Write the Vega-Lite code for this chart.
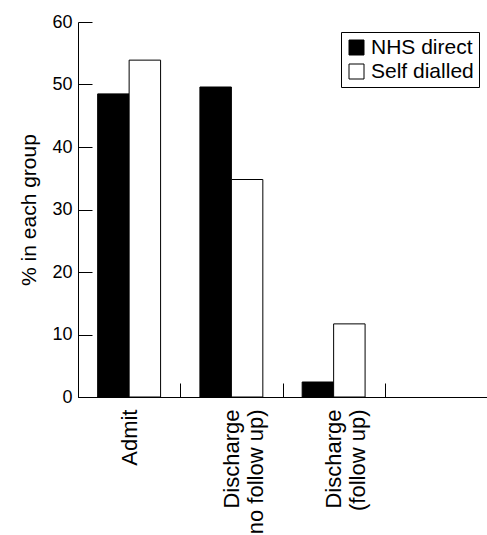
{
  "$schema": "https://vega.github.io/schema/vega-lite/v6.json",
  "autosize": "none",
  "width": 409,
  "height": 375,
  "padding": {"left": 78, "top": 22, "right": 0, "bottom": 138},
  "background": "white",
  "config": {
    "view": {"stroke": null},
    "font": "Liberation Sans",
    "axis": {"grid": false, "domainColor": "black", "tickColor": "black", "labelColor": "black", "titleColor": "black", "domainWidth": 1, "tickWidth": 1}
  },
  "data": {
    "values": [
      {"outcome": "Admit", "group": "NHS direct", "pct": 48.5},
      {"outcome": "Admit", "group": "Self dialled", "pct": 53.9},
      {"outcome": "Discharge|no follow up)", "group": "NHS direct", "pct": 49.6},
      {"outcome": "Discharge|no follow up)", "group": "Self dialled", "pct": 34.8},
      {"outcome": "Discharge|(follow up)", "group": "NHS direct", "pct": 2.4},
      {"outcome": "Discharge|(follow up)", "group": "Self dialled", "pct": 11.7}
    ]
  },
  "mark": {"type": "bar", "stroke": "black", "strokeWidth": 1},
  "encoding": {
    "x": {
      "field": "outcome",
      "type": "nominal",
      "sort": null,
      "scale": {"domain": ["Admit", "Discharge|no follow up)", "Discharge|(follow up)", " "], "paddingInner": 0, "paddingOuter": 0},
      "axis": {
        "title": null,
        "values": ["Admit", "Discharge|no follow up)", "Discharge|(follow up)"],
        "tickBand": "extent",
        "tickSize": -14,
        "labelAngle": -90,
        "labelAlign": "right",
        "labelBaseline": "middle",
        "labelPadding": 26,
        "labelFontSize": 22,
        "labelLineHeight": 24,
        "labelExpr": "split(datum.label, '|')"
      }
    },
    "xOffset": {
      "field": "group",
      "type": "nominal",
      "scale": {"domain": ["NHS direct", "Self dialled"], "paddingInner": 0, "paddingOuter": 0.625}
    },
    "y": {
      "field": "pct",
      "type": "quantitative",
      "scale": {"domain": [0, 60], "nice": false},
      "axis": {
        "title": "% in each group",
        "titleFontSize": 21,
        "titleFontWeight": "normal",
        "titlePadding": 12,
        "values": [0, 10, 20, 30, 40, 50, 60],
        "tickSize": -14,
        "labelPadding": 20,
        "labelFontSize": 18
      }
    },
    "fill": {
      "field": "group",
      "type": "nominal",
      "scale": {"domain": ["NHS direct", "Self dialled"], "range": ["black", "white"]},
      "legend": {
        "title": null,
        "orient": "none",
        "legendX": 263,
        "legendY": 10,
        "strokeColor": "black",
        "padding": 5,
        "symbolType": "square",
        "symbolSize": 225,
        "symbolStrokeColor": "black",
        "symbolStrokeWidth": 1,
        "symbolOffset": 0,
        "labelFontSize": 21,
        "labelColor": "black",
        "labelOffset": 4,
        "rowPadding": 2
      }
    }
  }
}
